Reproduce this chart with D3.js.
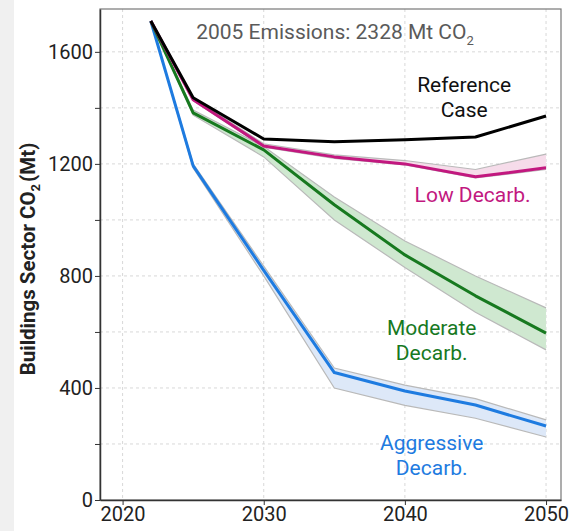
<!DOCTYPE html>
<html>
<head>
<meta charset="utf-8">
<script src="https://cdn.jsdelivr.net/npm/d3@7"></script>
<style>
  body { margin: 0; background: #fff; font-family: Roboto, "Noto Sans", sans-serif; }
</style>
</head>
<body>
<div id="chart"></div>
<script>
const width = 571
const height = 531
const margin = { top: 9, right: 10, bottom: 31, left: 100 }

const years = [2022, 2025, 2030, 2035, 2040, 2045, 2050]
const xTicks = [2020, 2030, 2040, 2050]
const yTicks = [0, 400, 800, 1200, 1600]
const yGrid = [200, 400, 600, 800, 1000, 1200, 1400, 1600]

const reference = [1710, 1436, 1289, 1279, 1286, 1296, 1371]
const lowMid = [1710, 1429, 1264, 1225, 1200, 1154, 1186]
const lowHi = [1710, 1434, 1272, 1232, 1212, 1180, 1235]
const lowLo = [1710, 1426, 1260, 1220, 1196, 1150, 1180]
const modMid = [1710, 1382, 1250, 1054, 875, 729, 596]
const modHi = [1710, 1392, 1262, 1082, 925, 800, 686]
const modLo = [1710, 1374, 1225, 1000, 830, 670, 536]
const aggMid = [1710, 1193, 820, 455, 389, 339, 264]
const aggHi = [1710, 1200, 835, 471, 410, 362, 286]
const aggLo = [1710, 1185, 800, 400, 338, 292, 225]

const scenarios = [
    { name: "low", mid: lowMid, hi: lowHi, lo: lowLo, color: "#c2187f", fill: "#f6dcea" },
    { name: "mod", mid: modMid, hi: modHi, lo: modLo, color: "#17791f", fill: "#cfe8d0" },
    { name: "agg", mid: aggMid, hi: aggHi, lo: aggLo, color: "#1e7be0", fill: "#dde8f8" },
]

const labels = [
    { lines: ["Reference", "Case"], year: 2044.2, value: 1455, color: "#111" },
    { lines: ["Low Decarb."], year: 2044.8, value: 1064, color: "#c2187f" },
    { lines: ["Moderate", "Decarb."], year: 2041.9, value: 590, color: "#17791f" },
    { lines: ["Aggressive", "Decarb."], year: 2041.9, value: 180, color: "#1e7be0" },
]

const svg = d3.select("div#chart").append("svg")
    .attr("width", width).attr("height", height)
    .style("display", "block")

svg.append("rect").attr("x", 0).attr("y", 0).attr("width", 14).attr("height", height).attr("fill", "#f0f0f0")

const x = d3.scaleLinear().domain([2018.4, 2051.06]).range([margin.left, width - margin.right])
const y = d3.scaleLinear().domain([0, 1753]).range([height - margin.bottom, margin.top])

// grid
const grid = svg.append("g").attr("class", "grid")
grid.selectAll("line.h").data(yGrid).enter().append("line")
    .attr("x1", margin.left).attr("x2", width - margin.right)
    .attr("y1", d => y(d)).attr("y2", d => y(d))
    .attr("stroke", "#d8d8d8").attr("stroke-dasharray", "3,3")
grid.selectAll("line.v").data(xTicks).enter().append("line")
    .attr("y1", margin.top).attr("y2", height - margin.bottom)
    .attr("x1", d => x(d)).attr("x2", d => x(d))
    .attr("stroke", "#d8d8d8").attr("stroke-dasharray", "3,3")

// bands + lines
const area = d3.area()
    .x((d, i) => x(years[i]))
    .y0(d => y(d[0]))
    .y1(d => y(d[1]))
const line = d3.line()
    .x((d, i) => x(years[i]))
    .y(d => y(d))

const series = svg.append("g").attr("class", "series")
scenarios.slice().reverse().forEach(s => {
    const band = s.lo.map((v, i) => [v, s.hi[i]])
    series.append("path").attr("d", area(band))
        .attr("fill", s.fill).attr("stroke", "none")
    series.append("path").attr("d", line(s.hi))
        .attr("fill", "none").attr("stroke", "#b9b9b9").attr("stroke-width", 1.2)
    series.append("path").attr("d", line(s.lo))
        .attr("fill", "none").attr("stroke", "#b9b9b9").attr("stroke-width", 1.2)
})
scenarios.slice().reverse().forEach(s => {
    series.append("path").attr("d", line(s.mid))
        .attr("fill", "none").attr("stroke", s.color).attr("stroke-width", 3)
        .attr("stroke-linejoin", "round")
})
series.append("path").attr("d", line(reference))
    .attr("fill", "none").attr("stroke", "#000").attr("stroke-width", 3)
    .attr("stroke-linejoin", "round")

// frame
svg.append("rect")
    .attr("x", margin.left).attr("y", margin.top)
    .attr("width", width - margin.left - margin.right)
    .attr("height", height - margin.top - margin.bottom)
    .attr("fill", "none").attr("stroke", "#777").attr("stroke-width", 1.2)

// axes
const xAxis = d3.axisBottom(x).tickValues(xTicks).tickFormat(d3.format("d")).tickSize(5).tickSizeOuter(0)
const yAxis = d3.axisLeft(y).tickValues(yGrid.concat([0])).tickSize(5).tickSizeOuter(0)
    .tickFormat(d => yTicks.includes(d) ? d : "")

const xAxisGroup = svg.append("g").attr("transform", `translate(0, ${height - margin.bottom})`).call(xAxis)
const yAxisGroup = svg.append("g").attr("transform", `translate(${margin.left}, 0)`).call(yAxis)
;[xAxisGroup, yAxisGroup].forEach(g => {
    g.select(".domain").attr("stroke", "#333").attr("stroke-width", 1.5)
    g.selectAll(".tick line").attr("stroke", "#333")
    g.selectAll("text").attr("fill", "#222").style("font-size", "20px").style("font-family", "Roboto, sans-serif")
})
xAxisGroup.selectAll("text").attr("dy", "0.8em").attr("y", 5)
yAxisGroup.selectAll("text").attr("x", -7)

// y label
const yl = svg.append("text")
    .attr("transform", `translate(35, 259) rotate(-90)`)
    .attr("text-anchor", "middle")
    .style("font-size", "20.5px").style("font-weight", "bold").attr("fill", "#222")
yl.append("tspan").text("Buildings Sector CO")
yl.append("tspan").text("2").attr("dy", 5).style("font-size", "13px")
yl.append("tspan").text("(Mt)").attr("dy", -5).attr("dx", 2)

// title
const t = svg.append("text")
    .attr("x", 335).attr("y", 39)
    .attr("text-anchor", "middle")
    .style("font-size", "21px").attr("fill", "#5a5a5a")
t.append("tspan").text("2005 Emissions: 2328 Mt CO")
t.append("tspan").text("2").attr("dy", 6).style("font-size", "13px")

// scenario labels
labels.forEach(l => {
    const txt = svg.append("text")
        .attr("x", x(l.year)).attr("y", y(l.value))
        .attr("text-anchor", "middle")
        .style("font-size", "21px").attr("fill", l.color)
    l.lines.forEach((s, i) => {
        txt.append("tspan").attr("x", x(l.year)).attr("dy", i === 0 ? 0 : 25).text(s)
    })
})
</script>
</body>
</html>
